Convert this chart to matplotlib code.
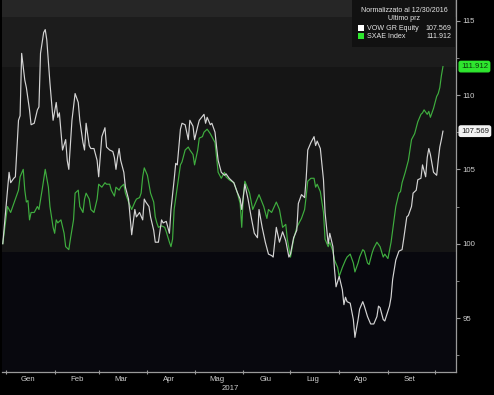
import matplotlib
matplotlib.use("Agg")
import matplotlib.pyplot as plt
import matplotlib.dates as mdates
from matplotlib.patches import Rectangle
import pandas as pd

plt.rcParams["font.family"] = ["Liberation Sans", "DejaVu Sans"]

# ---- data (days after the 12/30/2016 normalisation date) ----
vow_days = [0, 4, 5, 7, 8, 10, 11, 12, 14, 15, 17, 18, 20, 22, 23, 24, 26, 27, 28, 30,
            32, 34, 35, 36, 38, 40, 41, 42, 44, 46, 48, 49, 51, 52, 53, 55, 56, 58, 60, 61,
            63, 65, 66, 68, 70, 71, 72, 73, 74, 75, 77, 78, 80, 81, 82, 84, 85, 87, 89, 90,
            91, 93, 94, 96, 97, 99, 101, 102, 104, 106, 107, 109, 110, 111, 113, 114, 116, 118, 119, 121,
            122, 124, 125, 128, 129, 130, 132, 133, 135, 136, 137, 139, 141, 142, 144, 147, 149, 151, 152, 154,
            156, 158, 160, 162, 163, 165, 167, 169, 171, 172, 174, 176, 178, 180, 182, 183, 185, 187, 188, 190,
            192, 193, 194, 196, 198, 199, 200, 202, 204, 205, 207, 208, 210, 211, 212, 214, 216, 217, 218, 219,
            221, 223, 224, 226, 227, 229, 230, 232, 234, 236, 238, 239, 240, 242, 243, 246, 247, 248, 250, 252,
            254, 255, 257, 258, 260, 261, 263, 264, 266, 267, 269, 270, 271, 272, 274, 276, 277, 278, 279, 280]
vow_values = [100.0, 104.8, 104.1, 104.4, 104.5, 108.3, 108.6, 112.8, 111.0, 110.5, 109.0, 108.0, 108.1, 109.0, 109.2, 112.8, 114.2, 114.4, 113.7, 110.8,
              108.3, 109.5, 108.5, 108.8, 106.3, 107.0, 105.6, 105.0, 108.3, 110.1, 109.5, 108.3, 106.8, 106.3, 108.1, 106.6, 106.4, 106.4, 105.6, 104.5,
              107.2, 107.8, 106.5, 106.3, 106.2, 105.8, 105.0, 105.8, 106.4, 105.6, 104.8, 103.8, 103.0, 101.8, 100.6, 102.3, 101.8, 102.1, 101.6, 103.0,
              102.8, 102.5, 101.8, 100.9, 100.1, 100.1, 101.6, 101.4, 101.5, 100.7, 102.3, 104.3, 105.4, 105.3, 107.7, 108.1, 108.0, 107.0, 108.3, 107.9,
              107.0, 107.9, 108.3, 108.7, 108.1, 108.5, 108.0, 108.1, 107.5, 106.5, 105.6, 104.8, 104.6, 104.7, 104.4, 104.1, 103.5, 103.0, 102.3, 104.0,
              103.0, 101.8, 100.7, 100.4, 102.3, 101.1, 100.1, 99.3, 99.2, 99.1, 101.1, 100.1, 100.8, 100.2, 99.1, 99.3, 100.4, 100.9, 102.7, 103.3,
              103.1, 104.4, 106.3, 106.8, 107.2, 106.6, 106.9, 106.4, 104.3, 102.1, 100.0, 100.7, 99.8, 98.3, 97.1, 97.8, 96.9, 95.9, 96.4, 96.1,
              96.0, 94.9, 93.7, 94.9, 95.6, 96.1, 95.8, 95.1, 94.6, 94.6, 95.1, 95.8, 95.7, 94.9, 94.8, 95.8, 96.4, 97.6, 98.9, 99.5,
              99.6, 100.3, 101.8, 101.9, 102.5, 103.4, 103.6, 104.3, 104.4, 105.3, 104.5, 105.8, 106.4, 106.0, 104.8, 104.6, 105.6, 106.5, 107.0, 107.569]

sxae_days = [0, 3, 5, 6, 8, 10, 11, 13, 14, 15, 16, 17, 18, 20, 22, 23, 25, 27, 29, 30,
             32, 33, 34, 35, 37, 39, 40, 42, 43, 45, 46, 48, 49, 51, 52, 53, 55, 56, 58, 60,
             61, 63, 65, 66, 68, 69, 71, 72, 74, 75, 77, 78, 80, 82, 84, 85, 87, 88, 89, 90,
             92, 94, 96, 97, 98, 99, 101, 103, 104, 106, 107, 108, 109, 111, 113, 114, 116, 118, 119, 121,
             122, 124, 125, 127, 128, 130, 132, 133, 135, 136, 137, 139, 141, 142, 144, 147, 149, 151, 152, 153,
             154, 157, 159, 161, 163, 166, 168, 169, 171, 174, 176, 178, 180, 181, 183, 185, 187, 188, 190, 192,
             193, 194, 196, 198, 199, 200, 202, 204, 205, 207, 208, 210, 211, 213, 214, 216, 218, 219, 221, 223,
             224, 226, 227, 229, 230, 232, 233, 235, 236, 238, 240, 242, 243, 245, 247, 248, 250, 252, 253, 254,
             256, 258, 259, 260, 262, 264, 266, 267, 268, 270, 271, 272, 274, 276, 277, 278, 279, 280]
sxae_values = [100.0, 102.5, 102.1, 102.4, 103.0, 103.6, 104.5, 105.0, 103.6, 102.8, 102.9, 101.6, 102.1, 102.1, 102.5, 102.3, 103.6, 105.0, 103.8, 102.5,
               101.1, 100.7, 101.6, 101.4, 101.6, 100.7, 99.8, 99.6, 100.3, 101.6, 103.4, 103.6, 102.5, 102.1, 103.0, 103.4, 103.0, 102.3, 102.1, 103.0,
               104.0, 103.8, 104.1, 104.0, 104.0, 103.6, 103.2, 103.8, 103.6, 103.8, 104.0, 103.4, 102.8, 102.3, 102.8, 103.0, 103.1, 103.4, 104.5, 105.1,
               104.6, 103.4, 102.8, 101.8, 101.4, 101.1, 101.2, 101.1, 100.8, 100.1, 99.8, 100.3, 102.3, 103.8, 105.3, 105.5, 106.3, 106.5, 106.3, 106.0,
               105.3, 106.3, 107.1, 107.2, 107.5, 107.7, 107.4, 107.2, 106.8, 105.8, 104.8, 104.4, 104.8, 104.5, 104.3, 104.1, 103.5, 102.7, 101.1, 103.2,
               104.2, 103.4, 102.3, 102.8, 103.3, 102.5, 101.7, 102.3, 102.1, 102.8, 102.3, 101.1, 101.3, 100.3, 99.1, 100.3, 101.1, 101.3, 101.7, 102.3,
               103.2, 104.2, 104.4, 104.4, 103.8, 104.0, 103.5, 102.1, 100.3, 99.8, 100.1, 99.5, 98.9, 98.4, 97.8, 98.4, 98.9, 99.1, 99.3, 98.7,
               98.1, 98.7, 99.1, 99.6, 99.5, 98.7, 98.6, 99.4, 99.7, 100.1, 99.8, 99.1, 99.3, 99.0, 100.1, 100.9, 102.5, 103.4, 103.5, 104.1,
               104.8, 105.6, 106.3, 107.0, 107.4, 108.2, 108.7, 108.8, 109.0, 108.7, 108.9, 108.5, 109.1, 109.9, 110.1, 110.5, 111.3, 111.912]

month_labels = ["Gen", "Feb", "Mar", "Apr", "Mag", "Giu", "Lug", "Ago", "Set"]
year_label = "2017"
series_names = ["VOW GR Equity", "SXAE Index"]
legend_title = ["Normalizzato al 12/30/2016", "Ultimo prz"]
y_ticks = [95, 100, 105, 110, 115]

base = pd.Timestamp("2016-12-30")
vow_dates = base + pd.to_timedelta(vow_days, unit="D")
sxae_dates = base + pd.to_timedelta(sxae_days, unit="D")

WHITE = "#d4d4d4"
GREEN = "#3fae3f"
BRIGHT_GREEN = "#2ee62e"
AXC = "#9a9a9a"
TXT = "#cfcfcf"
FS = 5.6
LFS = 5.1

fig = plt.figure(figsize=(4.94, 3.95), dpi=100, facecolor="black")
ax = fig.add_axes([2 / 494, 23 / 395, 454 / 494, 372 / 395])
ax.set_facecolor("#151515")

ymin, ymax = 91.37, 116.39
ax.set_ylim(ymin, ymax)
ax.set_xlim(base - pd.Timedelta(days=0.5), base + pd.Timedelta(days=288.3))

# background bands
ax.axhspan(115.25, ymax, color="#262626", zorder=0, lw=0)
ax.axhspan(111.89, 115.25, color="#1c1c1c", zorder=0, lw=0)
ax.axhspan(99.44, 111.89, color="#151515", zorder=0, lw=0)
ax.axhspan(ymin, 99.44, color="#08080e", zorder=0, lw=0)

ax.plot(sxae_dates, sxae_values, color=GREEN, lw=0.85, zorder=3)
ax.plot(vow_dates, vow_values, color=WHITE, lw=0.85, zorder=4)

# spines
for s in ["left", "top"]:
    ax.spines[s].set_visible(False)
for s in ["right", "bottom"]:
    ax.spines[s].set_color(AXC)
    ax.spines[s].set_linewidth(0.9)

# y axis on the right
ax.yaxis.tick_right()
ax.set_yticks(y_ticks)
ax.set_yticklabels([str(t) for t in y_ticks])
ax.set_yticks([92.5, 97.5, 102.5, 107.5, 112.5], minor=True)
ax.tick_params(axis="y", which="major", direction="out", length=3, width=0.8,
               colors=AXC, labelcolor=TXT, labelsize=FS, pad=1.5)
ax.tick_params(axis="y", which="minor", direction="out", length=2, width=0.6, colors=AXC)

# x axis: tick marks at month starts, labels mid-month
ax.xaxis.set_major_locator(mdates.MonthLocator())
ax.xaxis.set_major_formatter(plt.NullFormatter())
ax.xaxis.set_minor_locator(mdates.MonthLocator(bymonthday=15))
ax.xaxis.set_minor_formatter(plt.NullFormatter())
ax.tick_params(axis="x", which="major", direction="inout", length=3, width=0.8, colors=AXC)
ax.tick_params(axis="x", which="minor", length=0)
for i, lab in enumerate(month_labels):
    d = pd.Timestamp(2017, i + 1, 15)
    ax.text(d, -0.012, lab, transform=ax.get_xaxis_transform(), ha="center", va="top",
            color=TXT, fontsize=FS)
ax.text(0.502, -0.036, year_label, transform=ax.transAxes, ha="center", va="top",
        color=TXT, fontsize=FS)

# last value labels on the right
ax.annotate(f"{sxae_values[-1]:.3f}", xy=(1.0, sxae_values[-1]), xycoords=("axes fraction", "data"),
            xytext=(3.5, 0), textcoords="offset points", ha="left", va="center", fontsize=FS,
            color="#0a3a0a", bbox=dict(boxstyle="round,pad=0.22", fc=BRIGHT_GREEN, ec=BRIGHT_GREEN),
            annotation_clip=False)
ax.annotate(f"{vow_values[-1]:.3f}", xy=(1.0, vow_values[-1]), xycoords=("axes fraction", "data"),
            xytext=(3.5, 0), textcoords="offset points", ha="left", va="center", fontsize=FS,
            color="#202020", bbox=dict(boxstyle="round,pad=0.22", fc="#f2f2f2", ec="#f2f2f2"),
            annotation_clip=False)

# legend box (top right)
fig.patches.append(Rectangle((352 / 494, 1 - 47 / 395), 103 / 494, 47 / 395,
                             transform=fig.transFigure, fc="#111111", ec="none", zorder=5))
cx = 404 / 494
fig.text(cx, 1 - 11 / 395, legend_title[0], ha="center", va="center", color="#e6e6e6",
         fontsize=LFS, zorder=8)
fig.text(cx, 1 - 19 / 395, legend_title[1], ha="center", va="center", color="#e6e6e6",
         fontsize=LFS, zorder=8)
rows = [(series_names[0], vow_values[-1], "#ffffff", 28),
        (series_names[1], sxae_values[-1], BRIGHT_GREEN, 36)]
for name, val, col, ypx in rows:
    fig.patches.append(Rectangle((358 / 494, 1 - (ypx + 3) / 395), 6 / 494, 6 / 395,
                                 transform=fig.transFigure, fc=col, ec="none", zorder=6))
    fig.text(367 / 494, 1 - ypx / 395, name, ha="left", va="center", color="#e6e6e6",
             fontsize=LFS, zorder=8)
    fig.text(451 / 494, 1 - ypx / 395, f"{val:.3f}", ha="right", va="center", color="#e6e6e6",
             fontsize=LFS, zorder=8)

fig.savefig("out.png", dpi=100, facecolor="black")
